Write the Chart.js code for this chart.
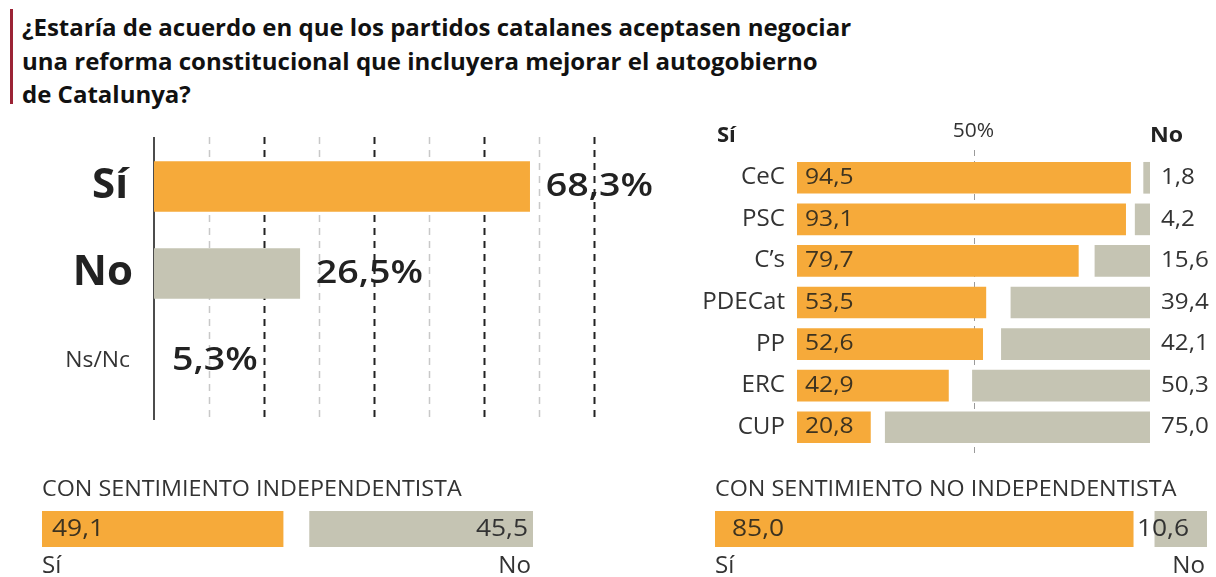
<!DOCTYPE html>
<html>
<head>
<meta charset="utf-8">
<script src="https://cdn.jsdelivr.net/npm/chart.js@4.4.0/dist/chart.umd.min.js"></script>
<style>
  body { margin:0; background:#fff; width:1216px; height:577px; position:relative; overflow:hidden; font-family:"Open Sans", sans-serif; }
  #redbar { position:absolute; left:10px; top:9px; width:3px; height:95px; background:#9b2335; }
  #title { position:absolute; left:22px; top:10px; font-weight:700; font-size:24px; line-height:33.5px; color:#111; white-space:nowrap; }
  canvas { position:absolute; }
</style>
</head>
<body>
<div id="redbar"></div>
<div id="title">¿Estaría de acuerdo en que los partidos catalanes aceptasen negociar<br>una reforma constitucional que incluyera mejorar el autogobierno<br>de Catalunya?</div>
<canvas id="mainChart" width="690" height="320" style="left:0;top:120px"></canvas>
<canvas id="partyChart" width="526" height="350" style="left:690px;top:110px"></canvas>
<canvas id="indepChart" width="620" height="117" style="left:0;top:460px"></canvas>
<canvas id="noIndepChart" width="596" height="117" style="left:620px;top:460px"></canvas>
<script>
// datos
const mainCats = ['Sí', 'No', 'Ns/Nc'];
const mainVals = [68.3, 26.5, 5.3];
const mainTicks = [10, 20, 30, 40, 50, 60, 70, 80];

const parties = ['CeC', 'PSC', 'C’s', 'PDECat', 'PP', 'ERC', 'CUP'];
const partySi = [94.5, 93.1, 79.7, 53.5, 52.6, 42.9, 20.8];
const partyNo = [1.8, 4.2, 15.6, 39.4, 42.1, 50.3, 75.0];

const indepSi = [49.1];
const indepNo = [45.5];
const noIndepSi = [85.0];
const noIndepNo = [10.6];

const ORANGE = '#f6aa3a';
const GREY = '#c5c4b3';
const fmt = v => v.toFixed(1).replace('.', ',');

Chart.defaults.font.family = '"Open Sans", sans-serif';
Chart.defaults.animation = false;

// texto algo ensanchado, como en el gráfico original
function txt(ctx, s, x, y, align, sx = 1.1) {
  ctx.save();
  ctx.translate(x, y);
  ctx.scale(sx, 1);
  ctx.textAlign = align;
  ctx.fillText(s, 0, 0);
  ctx.restore();
}

const baseOpts = (pad, xmax) => ({
  indexAxis: 'y',
  responsive: false,
  devicePixelRatio: 1,
  layout: { padding: pad },
  plugins: { legend: { display: false }, tooltip: { enabled: false } },
  scales: {
    x: { display: false, min: 0, max: xmax },
    y: { display: false }
  }
});

// Gráfico principal
new Chart(document.getElementById('mainChart'), {
  type: 'bar',
  data: {
    labels: mainCats,
    datasets: [{
      data: mainVals,
      backgroundColor: [ORANGE, GREY, 'rgba(0,0,0,0)'],
      barThickness: 50
    }]
  },
  options: baseOpts({ left: 154, right: 96, top: 23, bottom: 36 }, 80),
  plugins: [{
    id: 'mainDeco',
    beforeDatasetsDraw(chart) {
      const { ctx, scales: { x } } = chart;
      ctx.save();
      mainTicks.forEach((t, i) => {
        const px = Math.round(x.getPixelForValue(t)) + 0.5;
        ctx.strokeStyle = i % 2 ? '#222' : '#c8c8c8';
        ctx.lineWidth = i % 2 ? 2 : 1.5;
        ctx.setLineDash([7, 6]);
        ctx.beginPath(); ctx.moveTo(px, 17); ctx.lineTo(px, 300); ctx.stroke();
      });
      ctx.setLineDash([]);
      ctx.strokeStyle = '#111'; ctx.lineWidth = 1.5;
      const x0 = x.getPixelForValue(0);
      ctx.beginPath(); ctx.moveTo(x0, 17); ctx.lineTo(x0, 300); ctx.stroke();
      ctx.restore();
    },
    afterDatasetsDraw(chart) {
      const { ctx, scales: { x, y } } = chart;
      ctx.save();
      ctx.textBaseline = 'middle';
      mainVals.forEach((v, i) => {
        const cy = y.getPixelForValue(i);
        // etiqueta categoría
        ctx.fillStyle = '#222';
        if (i < 2) { ctx.font = 'bold 42px "Open Sans"'; txt(ctx, mainCats[i], i ? 133 : 128, cy, 'right', 1); }
        else { ctx.font = '22px "Open Sans"'; ctx.fillStyle = '#333'; txt(ctx, mainCats[i], 130, cy, 'right', 1.04); }
        // valor
        ctx.fillStyle = '#222';
        ctx.font = '600 33px "Open Sans"';
        const tx = v < 10 ? x.getPixelForValue(0) + 18 : x.getPixelForValue(v) + 16;
        txt(ctx, fmt(v) + '%', tx, cy, 'left', 1.14);
      });
      ctx.restore();
    }
  }]
});

// Gráfico por partidos
new Chart(document.getElementById('partyChart'), {
  type: 'bar',
  data: {
    labels: parties,
    datasets: [
      { data: partySi, backgroundColor: ORANGE, barThickness: 31, grouped: false },
      { data: partyNo.map(v => [100 - v, 100]), backgroundColor: GREY, barThickness: 31, grouped: false }
    ]
  },
  options: baseOpts({ left: 107, right: 66, top: 47, bottom: 12 }, 100),
  plugins: [{
    id: 'partyDeco',
    beforeDatasetsDraw(chart) {
      const { ctx, scales: { x } } = chart;
      const px = Math.round(x.getPixelForValue(50)) + 0.5;
      ctx.save();
      ctx.strokeStyle = '#9a9a9a'; ctx.lineWidth = 1; ctx.setLineDash([6, 5]);
      ctx.beginPath(); ctx.moveTo(px, 40); ctx.lineTo(px, 345); ctx.stroke();
      ctx.restore();
    },
    afterDatasetsDraw(chart) {
      const { ctx, scales: { x, y } } = chart;
      ctx.save();
      ctx.textBaseline = 'middle';
      ctx.font = 'bold 22px "Open Sans"'; ctx.fillStyle = '#222';
      txt(ctx, 'Sí', 27, 26, 'left', 1);
      txt(ctx, 'No', 460, 26, 'left', 1.05);
      ctx.font = '20px "Open Sans"'; ctx.fillStyle = '#333';
      txt(ctx, '50%', x.getPixelForValue(50), 21, 'center', 1.05);
      parties.forEach((p, i) => {
        const cy = y.getPixelForValue(i);
        ctx.font = '23px "Open Sans"';
        ctx.fillStyle = '#333';
        txt(ctx, p, 95, cy, 'right', 1.05);
        ctx.font = '22px "Open Sans"';
        ctx.fillStyle = '#3d3320';
        txt(ctx, fmt(partySi[i]), x.getPixelForValue(0) + 8, cy, 'left', 1.12);
        ctx.fillStyle = '#333';
        txt(ctx, fmt(partyNo[i]), x.getPixelForValue(100) + 11, cy, 'left', 1.1);
      });
      ctx.restore();
    }
  }]
});

// Barras inferiores
function splitBar(id, title, si, no, pad, inset) {
  new Chart(document.getElementById(id), {
    type: 'bar',
    data: {
      labels: [title],
      datasets: [
        { data: si, backgroundColor: ORANGE, barThickness: 36, grouped: false },
        { data: no.map(v => [100 - v, 100]), backgroundColor: GREY, barThickness: 36, grouped: false }
      ]
    },
    options: baseOpts(pad, 100),
    plugins: [{
      id: 'splitDeco',
      afterDatasetsDraw(chart) {
        const { ctx, scales: { x, y } } = chart;
        const x0 = x.getPixelForValue(0), x1 = x.getPixelForValue(100);
        const cy = y.getPixelForValue(0);
        ctx.save();
        ctx.textBaseline = 'middle';
        ctx.font = '21px "Open Sans"'; ctx.fillStyle = '#333';
        txt(ctx, title, x0, 30, 'left', 1.11);
        ctx.font = '23px "Open Sans"';
        txt(ctx, 'Sí', x0, 106, 'left', 1.05);
        txt(ctx, 'No', x1 - 2, 106, 'right', 1.05);
        ctx.font = '24px "Open Sans"';
        ctx.fillStyle = '#3d3320';
        txt(ctx, fmt(si[0]), x0 + inset, cy, 'left', 1.1);
        ctx.fillStyle = '#333';
        txt(ctx, fmt(no[0]), x1 - (inset > 10 ? 18 : 5), cy, 'right', 1.1);
        ctx.restore();
      }
    }]
  });
}
splitBar('indepChart', 'CON SENTIMIENTO INDEPENDENTISTA', indepSi, indepNo, { left: 42, right: 87, top: 51, bottom: 30 }, 10);
splitBar('noIndepChart', 'CON SENTIMIENTO NO INDEPENDENTISTA', noIndepSi, noIndepNo, { left: 95, right: 9, top: 51, bottom: 30 }, 17);
</script>
</body>
</html>
